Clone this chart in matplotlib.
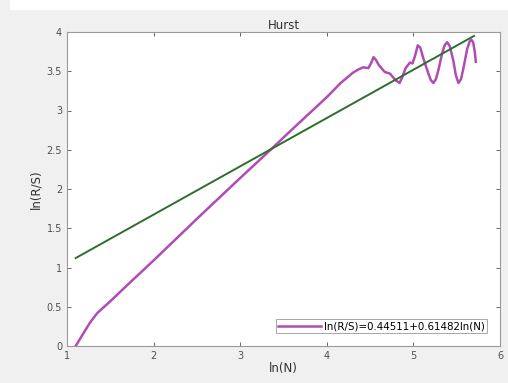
import matplotlib.pyplot as plt
from matplotlib.patches import Rectangle

# ln(N) vs ln(R/S)
ln_n = [1.10, 1.15, 1.20, 1.25, 1.30, 1.35, 1.40, 1.50, 1.70, 2.00, 2.50, 3.00,
        3.38, 3.60, 4.00, 4.16, 4.30, 4.36, 4.42, 4.48, 4.51, 4.54, 4.57, 4.60,
        4.67, 4.73, 4.79, 4.84, 4.87, 4.91, 4.96, 4.99, 5.02, 5.05, 5.08, 5.11,
        5.17, 5.20, 5.23, 5.26, 5.29, 5.33, 5.36, 5.39, 5.42, 5.46, 5.49, 5.52,
        5.55, 5.58, 5.62, 5.65, 5.67, 5.69, 5.71, 5.72]
ln_rs = [0.00, 0.09, 0.18, 0.27, 0.35, 0.42, 0.47, 0.57, 0.78, 1.09, 1.62, 2.14,
         2.53, 2.76, 3.17, 3.35, 3.48, 3.52, 3.55, 3.54, 3.60, 3.68, 3.64, 3.58,
         3.49, 3.47, 3.39, 3.35, 3.42, 3.54, 3.61, 3.60, 3.70, 3.83, 3.80, 3.68,
         3.48, 3.39, 3.35, 3.40, 3.52, 3.72, 3.83, 3.87, 3.82, 3.64, 3.45, 3.35,
         3.40, 3.55, 3.78, 3.88, 3.90, 3.87, 3.74, 3.62]

# fitted line end points
fit_x = [1.10, 5.70]
fit_y = [1.12, 3.95]

fit_label = "ln(R/S)=0.44511+0.61482ln(N)"

bg = "#f0f0f0"
fig = plt.figure(figsize=(5.08, 3.83), dpi=100, facecolor=bg)
fig.patches.append(Rectangle((10 / 508, 1 - 9 / 383), 1, 9 / 383,
                             transform=fig.transFigure, color="white", zorder=0))

ax = fig.add_axes([67 / 508, 1 - 346 / 383, 433 / 508, 314 / 383])
ax.plot(ln_n, ln_rs, color="#b04cb4", lw=1.8, label=fit_label)
ax.plot(fit_x, fit_y, color="#2d6e2d", lw=1.4)

ax.set_xlim(1, 6)
ax.set_ylim(0, 4)
ax.set_xticks([1, 2, 3, 4, 5, 6])
ax.set_yticks([0, 0.5, 1, 1.5, 2, 2.5, 3, 3.5, 4])
ax.set_yticklabels(["0", "0.5", "1", "1.5", "2", "2.5", "3", "3.5", "4"])
ax.tick_params(direction="in", top=True, right=True, labelsize=7,
               colors="#505050", length=3, width=0.6)
for s in ax.spines.values():
    s.set_color("#9a9a9a")
    s.set_linewidth(0.8)

ax.set_title("Hurst", fontsize=8.5, color="#303030", pad=2)
ax.set_xlabel("ln(N)", fontsize=8.5, color="#303030", labelpad=1)
ax.set_ylabel("ln(R/S)", fontsize=8.5, color="#303030", labelpad=3)

leg = ax.legend(loc="lower right", fontsize=7.4, fancybox=False, framealpha=1,
                handlelength=4.2, handletextpad=0.3, borderpad=0.2,
                borderaxespad=1.25)
leg.get_frame().set_edgecolor("#9a9a9a")
leg.get_frame().set_linewidth(0.6)

fig.savefig("out.png", dpi=100, facecolor=bg)
